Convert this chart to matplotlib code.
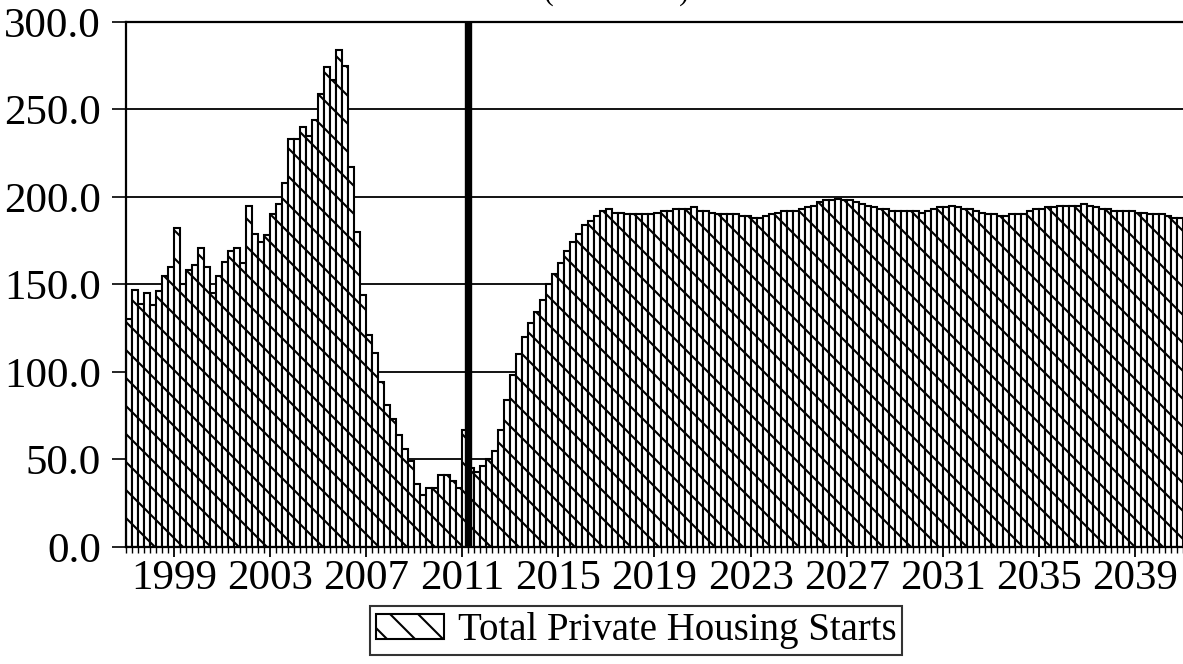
import matplotlib
matplotlib.use('Agg')
import matplotlib.pyplot as plt
from matplotlib.ticker import MultipleLocator, FormatStrFormatter
import numpy as np

# render at a lower dpi so the hatch pattern comes out denser;
# S converts sizes picked for 100 dpi into points at this dpi
DPI = 84
S = 100.0 / DPI

plt.rcParams['font.family'] = ['Liberation Serif', 'DejaVu Serif']
plt.rcParams['hatch.linewidth'] = 1.5 * S

# quarterly total private housing starts, 1997Q1 - 2040Q4
start_year = 1997
starts = [
    130, 147, 139, 145, 138, 146, 155, 160, 182, 150, 158, 161, 171, 160, 145, 155,
    163, 169, 171, 162, 195, 179, 174, 178, 190, 196, 208, 233, 233, 240, 235, 244,
    259, 274, 267, 284, 275, 217, 180, 144, 121, 111,
    94, 81, 73, 64, 56, 49, 36, 30, 34, 34, 41, 41, 38, 34, 67,
    45,
    43, 46, 50, 55, 67, 84, 98, 110, 120, 128, 134, 141, 150, 156, 162, 169,
    174, 179, 184, 186, 189, 192, 193, 191, 191, 190,
    190, 190, 190, 190, 191, 192, 192, 193, 193, 193, 194, 192, 192, 191, 190, 190,
    190, 190, 189, 189, 188, 188, 189, 190, 191, 192, 192, 192, 193, 194, 195, 197,
    198, 198, 199, 198, 198, 197, 196, 195, 194, 193, 193, 192, 192, 192, 192, 192,
    191, 192, 193, 194, 194, 195, 194, 193, 193, 192, 191, 190, 190, 189, 189, 190,
    190, 190, 192, 193, 193, 194, 194, 195, 195, 195, 195, 196, 195, 194, 193, 193,
    192, 192, 192, 192, 191, 191, 190, 190, 190, 189, 188, 188,
]
year_ticks = [1999, 2003, 2007, 2011, 2015, 2019, 2023, 2027, 2031, 2035, 2039]
forecast_start = 2011.25

x = start_year + np.arange(len(starts)) / 4.0

fig = plt.figure(figsize=(1183.0 / DPI, 664.0 / DPI), dpi=DPI)
ax = fig.add_axes([0.1065, 0.1762, 0.8935, 0.7907])

ax.bar(x, starts, width=0.25, align='edge', color='white', edgecolor='black',
       linewidth=1.5 * S, hatch='\\', label='Total Private Housing Starts', zorder=2)
ax.axvline(forecast_start, color='black', linewidth=5.3 * S, zorder=3)

ax.set_xlim(start_year, start_year + len(starts) / 4.0)
ax.set_ylim(0, 300)
ax.yaxis.set_major_locator(MultipleLocator(50))
ax.yaxis.set_major_formatter(FormatStrFormatter('%.1f'))
ax.set_xticks(year_ticks)
ax.set_xticklabels([str(y) for y in year_ticks])
ax.xaxis.set_minor_locator(MultipleLocator(0.25))

ax.grid(axis='y', color='black', linewidth=1.3 * S, zorder=0)
ax.set_axisbelow(True)

ax.tick_params(axis='y', which='major', direction='out', length=10 * S, width=1.2 * S,
               labelsize=31 * S, pad=8 * S)
ax.tick_params(axis='x', which='major', direction='out', length=7 * S, width=1.3 * S,
               labelsize=31 * S, pad=2 * S)
ax.tick_params(axis='x', which='minor', direction='out', length=4 * S, width=1.0 * S)

for side in ['left', 'bottom', 'top']:
    ax.spines[side].set_linewidth(1.6 * S)
ax.spines['right'].set_visible(False)

# title sits mostly above the canvas, as in the source image
fig.text(0.521, 1.0, '(Thousands)', fontsize=21 * S, ha='center', va='baseline')

leg = fig.legend(loc='upper center', bbox_to_anchor=(0.5376, 0.0873), fontsize=28 * S,
                 frameon=True, fancybox=False, edgecolor='black', handlelength=1.75,
                 handleheight=0.6, handletextpad=0.35, borderpad=0.15,
                 borderaxespad=0)
leg.get_frame().set_linewidth(1.5 * S)

plt.savefig('out.png', dpi=DPI)
